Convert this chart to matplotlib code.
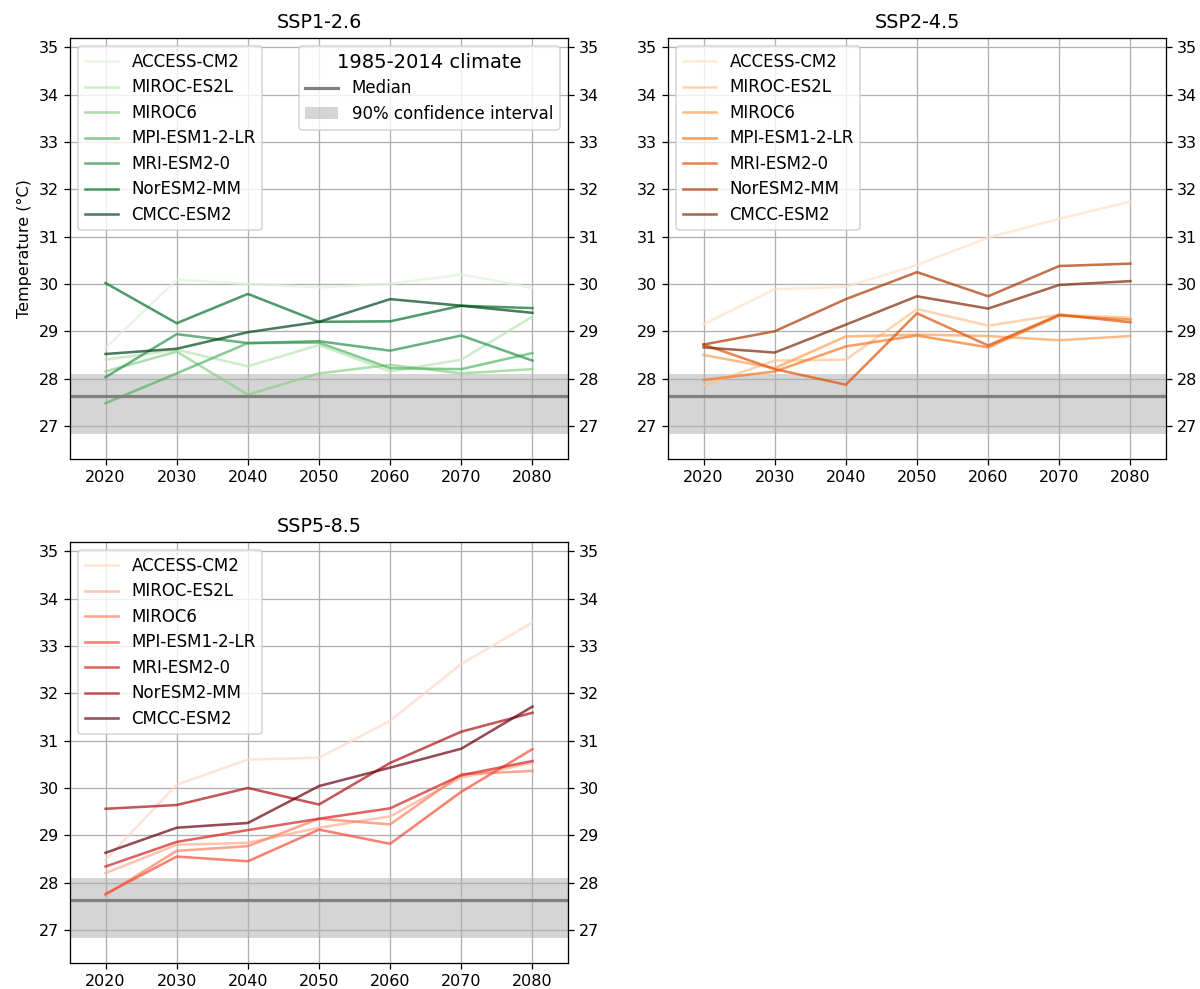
import matplotlib.pyplot as plt
import numpy as np

years = [2020, 2030, 2040, 2050, 2060, 2070, 2080]
models = ["ACCESS-CM2", "MIROC-ES2L", "MIROC6", "MPI-ESM1-2-LR",
          "MRI-ESM2-0", "NorESM2-MM", "CMCC-ESM2"]

# decadal mean temperature (°C), one row per model
ssp126 = [
    [28.65, 30.09, 30.00, 29.93, 30.00, 30.20, 29.92],
    [28.40, 28.61, 28.26, 28.71, 28.15, 28.40, 29.31],
    [28.15, 28.57, 27.66, 28.11, 28.29, 28.11, 28.20],
    [27.48, 28.11, 28.75, 28.76, 28.22, 28.20, 28.54],
    [28.03, 28.94, 28.75, 28.79, 28.59, 28.91, 28.38],
    [30.02, 29.17, 29.79, 29.20, 29.21, 29.54, 29.49],
    [28.52, 28.63, 28.98, 29.20, 29.68, 29.54, 29.39],
]
ssp245 = [
    [29.15, 29.89, 29.94, 30.40, 30.98, 31.38, 31.74],
    [27.85, 28.38, 28.40, 29.47, 29.12, 29.35, 29.29],
    [28.50, 28.22, 28.89, 28.93, 28.90, 28.81, 28.90],
    [27.97, 28.15, 28.68, 28.91, 28.66, 29.33, 29.25],
    [28.72, 28.20, 27.87, 29.38, 28.70, 29.35, 29.19],
    [28.72, 29.00, 29.68, 30.25, 29.74, 30.38, 30.43],
    [28.66, 28.55, 29.14, 29.74, 29.48, 29.98, 30.06],
]
ssp585 = [
    [28.48, 30.07, 30.60, 30.64, 31.42, 32.62, 33.50],
    [28.20, 28.80, 28.84, 29.16, 29.40, 30.22, 30.53],
    [27.74, 28.67, 28.77, 29.35, 29.23, 30.29, 30.36],
    [27.76, 28.55, 28.45, 29.12, 28.82, 29.92, 30.82],
    [28.34, 28.86, 29.11, 29.35, 29.57, 30.27, 30.57],
    [29.56, 29.64, 30.00, 29.65, 30.53, 31.19, 31.59],
    [28.63, 29.16, 29.26, 30.04, 30.43, 30.83, 31.72],
]

# 1985-2014 reference climate
baseline_median = 27.63
baseline_low = 26.82
baseline_high = 28.09

scenarios = [
    ("SSP1-2.6", ssp126, "Greens"),
    ("SSP2-4.5", ssp245, "Oranges"),
    ("SSP5-8.5", ssp585, "Reds"),
]

DPI = 115
fig = plt.figure(figsize=(1200 / DPI, 989 / DPI), dpi=DPI)

w, h = 498 / 1200, 421 / 989
positions = [
    [70 / 1200, 1 - 459 / 989, w, h],
    [668 / 1200, 1 - 459 / 989, w, h],
    [70 / 1200, 1 - 963 / 989, w, h],
]

for i, (title, temps, cmap_name) in enumerate(scenarios):
    ax = fig.add_axes(positions[i])
    colors = plt.get_cmap(cmap_name)(np.linspace(0.15, 1.0, len(models)))

    model_lines = []
    for model, series, color in zip(models, temps, colors):
        (line,) = ax.plot(years, series, color=color, alpha=0.7, lw=1.6,
                          label=model)
        model_lines.append(line)

    band = ax.axhspan(baseline_low, baseline_high, facecolor="gray",
                      alpha=0.33, lw=0, label="90% confidence interval")
    median = ax.axhline(baseline_median, color="gray", lw=2, label="Median")

    ax.set_xlim(2015, 2085)
    ax.set_ylim(26.3, 35.2)
    ax.set_xticks(years)
    ax.set_yticks(range(27, 36))
    ax.tick_params(right=True, labelright=True)
    ax.grid(True)
    ax.set_title(title)

    leg = ax.legend(handles=model_lines, loc="upper left", fontsize=10.4,
                    labelspacing=0.45)
    if i == 0:
        ax.set_ylabel("Temperature (°C)")
        ax.add_artist(leg)
        ax.legend(handles=[median, band], loc="upper right", fontsize=10.4,
                  labelspacing=0.45, title="1985-2014 climate",
                  title_fontsize=12.2)

fig.savefig("out.png", dpi=DPI)
